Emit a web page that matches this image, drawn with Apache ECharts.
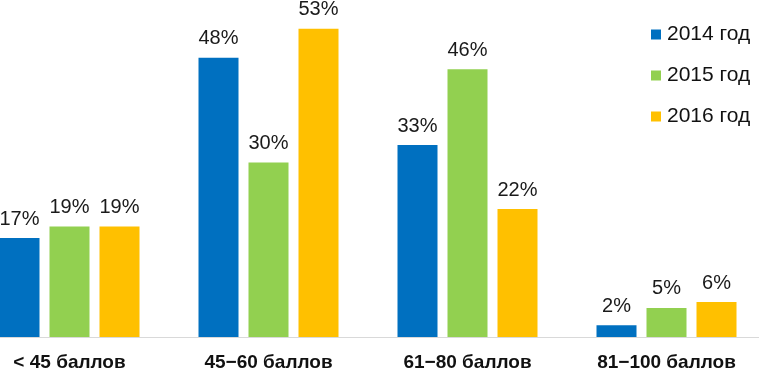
<!DOCTYPE html>
<html>
<head>
<meta charset="utf-8">
<script src="https://cdn.jsdelivr.net/npm/echarts@6/dist/echarts.min.js"></script>
<style>
  html, body { margin: 0; padding: 0; background: #fff; overflow: hidden; }
  /* plot is a bit wider than the window: first band starts left of the edge */
  #chart { width: 796px; height: 372px; margin-left: -30px; }
</style>
</head>
<body>
<div id="chart"></div>
<script>
  let categories = ['< 45 баллов', '45\u221260 баллов', '61\u221280 баллов', '81\u2212100 баллов']
  let seriesNames = ['2014 год', '2015 год', '2016 год']
  let values2014 = [17, 48, 33, 2]
  let values2015 = [19, 30, 46, 5]
  let values2016 = [19, 53, 22, 6]
  let colors = ['#0070C0', '#92D050', '#FFC000']

  let myChart = echarts.init(document.getElementById('chart'))

  let makeSeries = function (name, data, color) {
    return {
      name: name,
      type: 'bar',
      data: data,
      barWidth: 40,
      barGap: '25%',
      itemStyle: { color: color },
      label: {
        show: true,
        position: 'top',
        distance: 9,
        formatter: '{c}%',
        fontFamily: 'Liberation Sans, Arial, sans-serif',
        fontSize: 20,
        color: '#1a1a1a'
      }
    }
  }

  let option = {
    animation: false,
    legend: {
      orient: 'vertical',
      left: 676,
      top: 19,
      itemWidth: 10,
      itemHeight: 10,
      itemGap: 20,
      icon: 'rect',
      textStyle: {
        fontFamily: 'Liberation Sans, Arial, sans-serif',
        fontSize: 21,
        color: '#111',
        padding: [0, 0, 0, 1]
      },
      data: seriesNames
    },
    grid: {
      left: 0,
      right: 0,
      top: 17,
      bottom: 34
    },
    xAxis: {
      type: 'category',
      data: categories,
      axisLine: { lineStyle: { color: '#d9d9d9', width: 1 } },
      axisTick: { show: false },
      axisLabel: {
        margin: 16,
        fontFamily: 'Liberation Sans, Arial, sans-serif',
        fontSize: 19,
        fontWeight: 'bold',
        color: '#111'
      }
    },
    yAxis: {
      type: 'value',
      min: 0,
      max: 55,
      show: false,
      splitLine: { show: false }
    },
    series: [
      makeSeries(seriesNames[0], values2014, colors[0]),
      makeSeries(seriesNames[1], values2015, colors[1]),
      makeSeries(seriesNames[2], values2016, colors[2])
    ]
  }
  myChart.setOption(option)
</script>
</body>
</html>
